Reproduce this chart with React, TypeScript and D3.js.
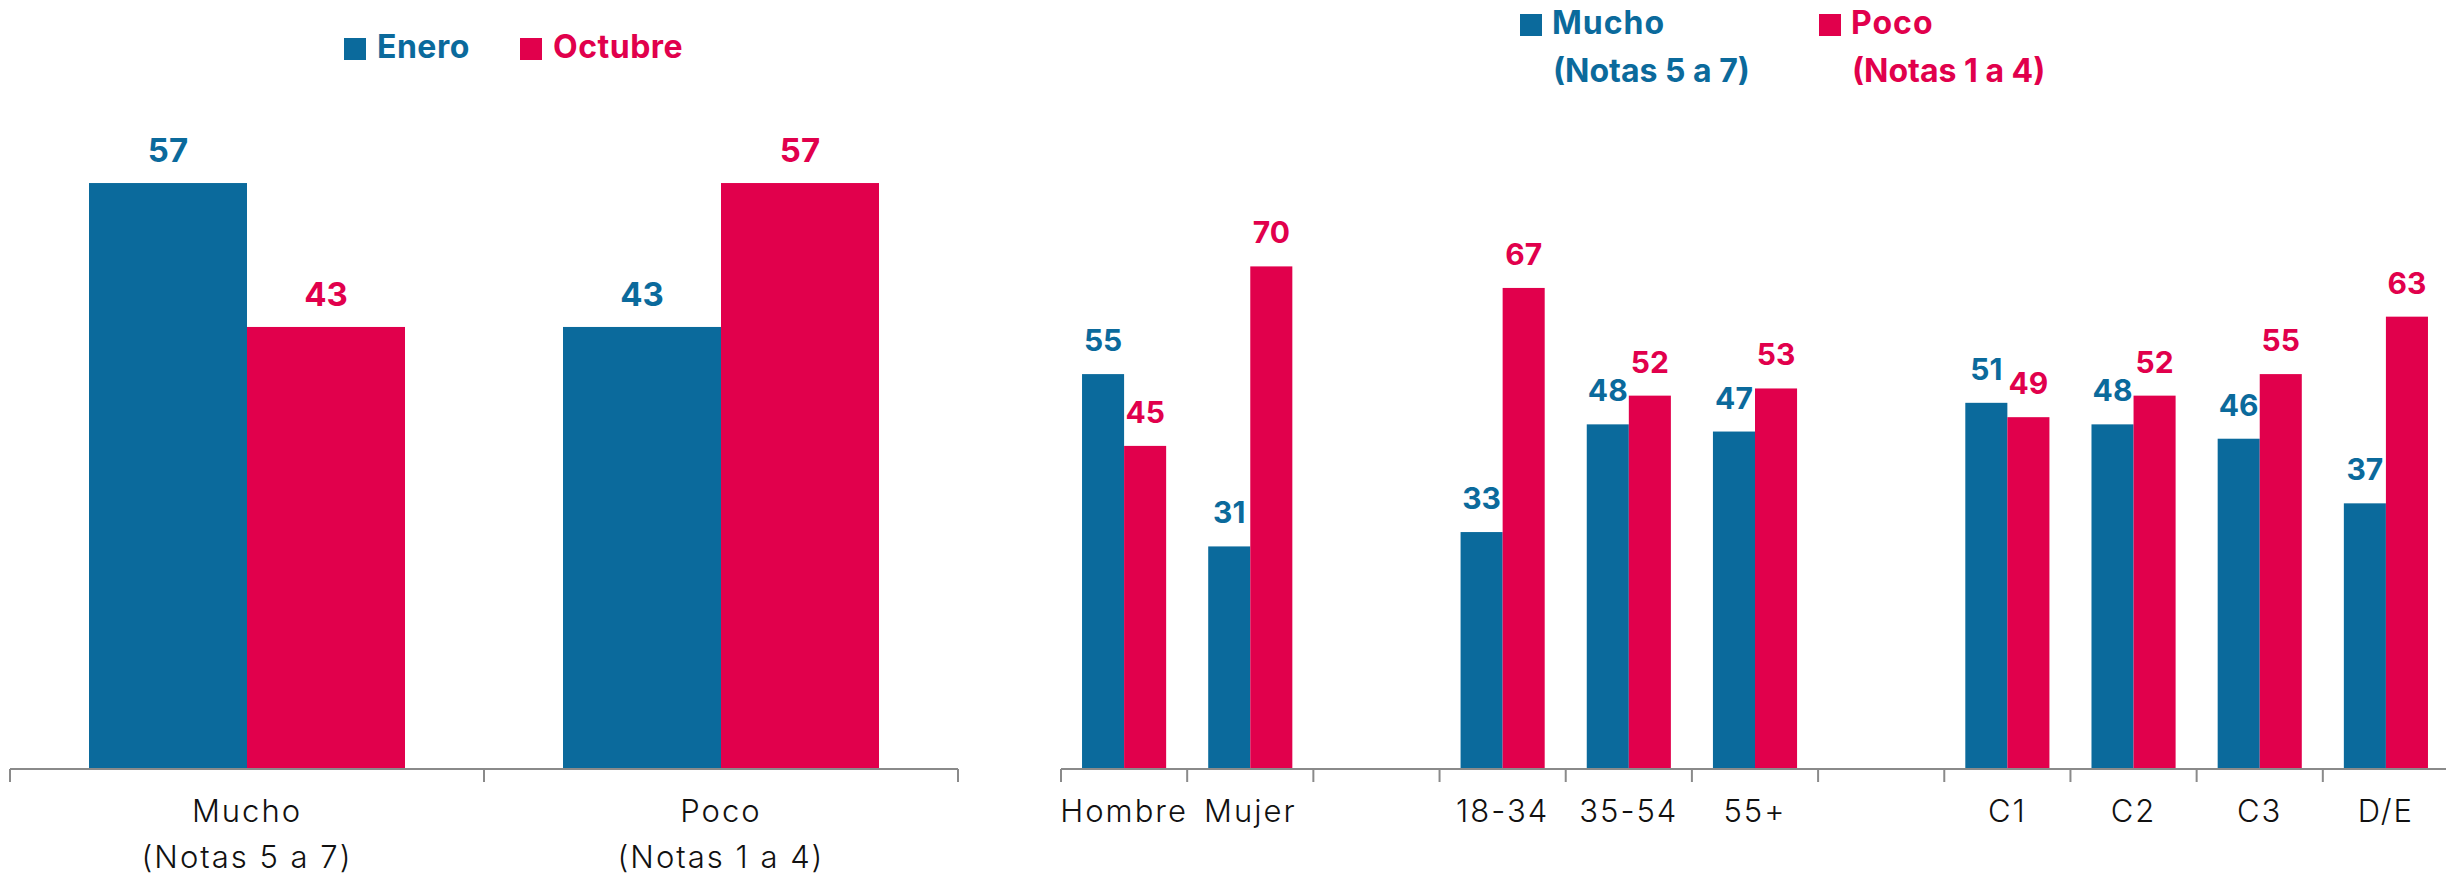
import React from "react";
import * as d3 from "d3";

const leftCategoryLine1 = ["Mucho", "Poco"];
const leftCategoryLine2 = ["(Notas 5 a 7)", "(Notas 1 a 4)"];
const leftSeries = ["Enero", "Octubre"];
const eneroValues = [57, 43];
const octubreValues = [43, 57];

const rightCategories = ["Hombre", "Mujer", "", "18-34", "35-54", "55+", "", "C1", "C2", "C3", "D/E"];
const rightSeries = ["Mucho", "Poco"];
const rightSeriesNotes = ["(Notas 5 a 7)", "(Notas 1 a 4)"];
const muchoValues: (number | null)[] = [55, 31, null, 33, 48, 47, null, 51, 48, 46, 37];
const pocoValues: (number | null)[] = [45, 70, null, 67, 52, 53, null, 49, 52, 55, 63];

const BLUE = "#0B6A9C";
const RED = "#E1004C";
const AXIS = "#8a8a8a";
const FONT = "Inter, 'Open Sans', sans-serif";

const W = 2446;
const H = 879;
const BASE = 769;

export default function App() {
  const colors = [BLUE, RED];

  // Left chart
  const xL = d3.scaleBand<number>().domain(d3.range(leftCategoryLine1.length)).range([10, 958]).paddingInner(0).paddingOuter(0);
  const xLi = d3.scaleBand<string>().domain(leftSeries).range([0, xL.bandwidth()]).paddingInner(0).paddingOuter(0.5);
  const yL = d3.scaleLinear().domain([0, 60]).range([BASE, BASE - 60 * 10.28]);
  const leftData = [eneroValues, octubreValues];

  // Right chart
  const xR = d3.scaleBand<number>().domain(d3.range(rightCategories.length)).range([1061, 2449]).paddingInner(0).paddingOuter(0);
  const xRi = d3.scaleBand<string>().domain(rightSeries).range([0, xR.bandwidth()]).paddingInner(0).paddingOuter(0.5);
  const yR = d3.scaleLinear().domain([0, 80]).range([BASE, BASE - 80 * 7.18]);
  const rightData = [muchoValues, pocoValues];

  const leftTicks = [...xL.domain().map((d) => xL(d)!), xL.range()[1]];
  const rightTicks = [...xR.domain().map((d) => xR(d)!), xR.range()[1]];

  return (
    <svg width={W} height={H} style={{ position: "absolute", left: 0, top: 0, background: "#fff" }} fontFamily={FONT}>
      {/* Left legend */}
      {leftSeries.map((s, i) => {
        const lx = [344, 520][i];
        return (
          <g key={s}>
            <rect x={lx} y={38} width={22} height={22} fill={colors[i]} />
            <text x={lx + 33} y={58} fontSize={32} fontWeight={700} letterSpacing={0.5} fill={colors[i]}>{s}</text>
          </g>
        );
      })}

      {/* Left bars */}
      {leftData.map((vals, si) =>
        vals.map((v, ci) => {
          const x = xL(ci)! + xLi(leftSeries[si])!;
          return (
            <g key={`l${si}-${ci}`}>
              <rect x={x} y={yL(v)} width={xLi.bandwidth()} height={BASE - yL(v)} fill={colors[si]} />
              <text x={x + xLi.bandwidth() / 2} y={yL(v) - 21} textAnchor="middle" fontSize={33} fontWeight={700} fill={colors[si]}>{v}</text>
            </g>
          );
        })
      )}

      {/* Left axis */}
      <line x1={xL.range()[0]} x2={xL.range()[1]} y1={BASE} y2={BASE} stroke={AXIS} strokeWidth={2} />
      {leftTicks.map((t, i) => (
        <line key={`lt${i}`} x1={t} x2={t} y1={BASE} y2={BASE + 13} stroke={AXIS} strokeWidth={2} />
      ))}
      {xL.domain().map((d) => (
        <text key={`ll${d}`} x={xL(d)! + xL.bandwidth() / 2} textAnchor="middle" fontSize={31} fontWeight={300} letterSpacing={2} fill="#111">
          <tspan x={xL(d)! + xL.bandwidth() / 2} y={822}>{leftCategoryLine1[d]}</tspan>
          <tspan x={xL(d)! + xL.bandwidth() / 2} y={868}>{leftCategoryLine2[d]}</tspan>
        </text>
      ))}

      {/* Right legend */}
      {rightSeries.map((s, i) => {
        const lx = [1520, 1819][i];
        return (
          <g key={s}>
            <rect x={lx} y={14} width={22} height={22} fill={colors[i]} />
            <text x={lx + 32} y={34} fontSize={32} fontWeight={700} letterSpacing={1} fill={colors[i]}>{s}</text>
            <text x={lx + 33} y={82} fontSize={32} fontWeight={700} fill={colors[i]}>{rightSeriesNotes[i]}</text>
          </g>
        );
      })}

      {/* Right bars */}
      {rightData.map((vals, si) =>
        vals.map((v, ci) => {
          if (v === null) return null;
          const x = xR(ci)! + xRi(rightSeries[si])!;
          return (
            <g key={`r${si}-${ci}`}>
              <rect x={x} y={yR(v)} width={xRi.bandwidth()} height={BASE - yR(v)} fill={colors[si]} />
              <text x={x + xRi.bandwidth() / 2} y={yR(v) - 23} textAnchor="middle" fontSize={30} fontWeight={700} fill={colors[si]}>{v}</text>
            </g>
          );
        })
      )}

      {/* Right axis */}
      <line x1={xR.range()[0]} x2={W} y1={BASE} y2={BASE} stroke={AXIS} strokeWidth={2} />
      {rightTicks.map((t, i) => (
        <line key={`rt${i}`} x1={t} x2={t} y1={BASE} y2={BASE + 13} stroke={AXIS} strokeWidth={2} />
      ))}
      {xR.domain().map((d) => (
        <text key={`rl${d}`} x={xR(d)! + xR.bandwidth() / 2} y={822} textAnchor="middle" fontSize={31} fontWeight={300} letterSpacing={2} fill="#111">
          {rightCategories[d]}
        </text>
      ))}
    </svg>
  );
}
